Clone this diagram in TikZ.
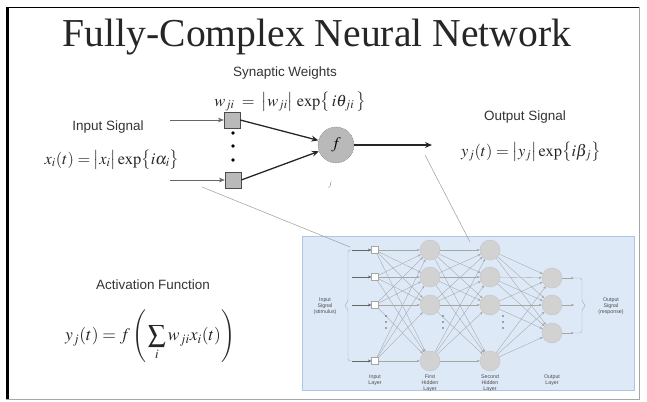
\documentclass[tikz,border=0pt]{standalone}
\usepackage{mathptmx}
\usepackage{fontspec}
\setmainfont{Liberation Serif}
\setsansfont{Liberation Sans}
\usetikzlibrary{positioning}
\usetikzlibrary{arrows.meta}
\definecolor{netblue}{RGB}{221,233,247}
\definecolor{netframe}{RGB}{172,198,228}
\tikzset{
    titlenode/.style = {font=\rmfamily\fontsize{33.8}{38}\selectfont,text=black!85,inner sep=1pt},
    labelnode/.style = {font=\sffamily\fontsize{11.5}{13}\selectfont,text=black!80,inner sep=1pt},
    mathnode/.style = {font=\fontsize{14}{16}\selectfont,text=black!85,inner sep=1pt},
    sqnode/.style = {rectangle, draw=gray!60!black, fill=gray!55, minimum size=0.48cm, inner sep=0pt},
    neuron/.style = {circle, draw=gray!60!black, densely dotted, fill=gray!55, minimum size=1.08cm, inner sep=0pt, font=\fontsize{14}{16}\selectfont},
    insq/.style = {rectangle, draw=gray!70, fill=white, minimum size=0.2cm, inner sep=0pt},
    netnode/.style = {circle, draw=gray!45, fill=gray!35, minimum size=0.6cm, inner sep=0pt},
    tinytext/.style = {font=\sffamily\fontsize{4.5}{5}\selectfont,text=black!70,align=center,inner sep=0.5pt},
    edgen/.style = {-{Stealth[length=6pt,width=5pt]},line width=1.1pt,black!85},
    edgein/.style = {-{Stealth[length=5pt,width=4pt]},black!60,line width=0.5pt},
    netedge/.style = {-{Stealth[length=2.5pt,width=2pt]},gray!70,line width=0.3pt},
    linkedge/.style = {-,gray!70,line width=0.5pt}, % to the network
}

\begin{document}
\begin{tikzpicture}[x=0.03cm,y=-0.03cm]
\useasboundingbox (0,0) rectangle (647,402);
% frame
\fill[black] (5.5,7) rectangle (9,400);
\draw[black,line width=0.8pt] (6,7.5) -- (640,7.5);
\draw[gray!70,line width=0.6pt] (639,7.5) -- (639,399) -- (6,399);

\node[titlenode] (title) at (317,37) {Fully-Complex Neural Network};

% single neuron
\node[labelnode] (synlabel) at (285,73) {Synaptic Weights};
\node[mathnode] (wform) at (290,102) {$w_{ji}\;=\;\bigl|w_{ji}\bigr|\,\exp\bigl\{\,i\theta_{ji}\,\bigr\}$};
\node[labelnode] (inlabel) at (108,127) {Input Signal};
\node[mathnode] (xform) at (112,160) {$x_i(t)=\bigl|x_i\bigr|\exp\bigl\{i\alpha_i\bigr\}$};
\node[sqnode] (sq1) at (232,120) {};
\node[sqnode] (sq2) at (233,180) {};
\foreach \y in {133,146,160}
    \fill[black] (233,\y) circle (1.8);
\coordinate (in1) at (170,120);
\coordinate (in2) at (170,180);
\node[neuron] (f) at (336,145) {$f$};
\node[font=\fontsize{7}{8}\selectfont,text=gray] (jlabel) at (330,185) {$j$};
\coordinate (out) at (432,145);
%
\draw[edgein] (in1) -- (sq1);
\draw[edgein] (in2) -- (sq2);
\draw[edgen] (sq1.east) -- (f);
\draw[edgen] (sq2.east) -- (f);
\draw[edgen] (f) -- (out);

\node[labelnode] (outlabel) at (525,117) {Output Signal};
\node[mathnode] (yform) at (531,152) {$y_j(t)=\bigl|y_j\bigr|\exp\bigl\{i\beta_j\bigr\}$};

\node[labelnode] (actlabel) at (153,285) {Activation Function};
\node[mathnode,font=\fontsize{15}{17}\selectfont] (actform) at (150,336) {$\displaystyle y_j(t)=f\left(\,\sum_i w_{ji}x_i(t)\right)$};

% multilayer network
\node[draw=netframe,fill=netblue,minimum width=9.96cm,minimum height=4.62cm,inner sep=0pt] (netbox) at (468,313) {};
\coordinate (link1) at (202,187);
\coordinate (link2) at (350,247);
\coordinate (link3) at (425,155);
\coordinate (link4) at (470,242);
\draw[linkedge] (link1) -- (link2);
\draw[linkedge] (link3) -- (link4);

\foreach \n/\y in {1/250,2/277,3/305,4/361}{
    \node[insq] (a\n) at (375,\y) {};
    \node[netnode] (b\n) at (430,\y) {};
    \node[netnode] (c\n) at (490,\y) {};
    \coordinate (s\n) at (352,\y);
}
\foreach \n/\y in {1/278,2/305,3/333}{
    \node[netnode] (d\n) at (552,\y) {};
    \coordinate (e\n) at (574,\y);
}
\foreach \i in {1,...,4}{
    \draw[edgein,-{Stealth[length=3pt,width=2.5pt]},line width=0.3pt] (s\i) -- (a\i);
    \foreach \j in {1,...,4}{
        \draw[netedge] (a\i) -- (b\j);
        \draw[netedge] (b\i) -- (c\j);
    }
    \foreach \j in {1,...,3}
        \draw[netedge] (c\i) -- (d\j);
}
\foreach \n in {1,2,3}
    \draw[netedge] (d\n) -- (e\n);
\foreach \x in {386,443,503}
    \foreach \y in {316,322,328}
        \fill[gray!70!black] (\x,\y) circle (0.8);
% brackets
\draw[gray!60,line width=0.4pt,rounded corners=2] (352,250) -- (348,250) -- (348,302) -- (344,305.5) -- (348,309) -- (348,361) -- (352,361);
\draw[gray!60,line width=0.4pt,rounded corners=2] (575,278) -- (582,278) -- (582,302) -- (586,305.5) -- (582,309) -- (582,333) -- (575,333);
\node[tinytext] (instim) at (325,306) {Input\\Signal\\(stimulus)};
\node[tinytext] (outresp) at (611,306) {Output\\Signal\\(response)};
\node[tinytext] (lay1) at (375,380) {Input\\Layer};
\node[tinytext] (lay2) at (430,383) {First\\Hidden\\Layer};
\node[tinytext] (lay3) at (490,383) {Second\\Hidden\\Layer};
\node[tinytext] (lay4) at (552,380) {Output\\Layer};
\end{tikzpicture}
\end{document}
